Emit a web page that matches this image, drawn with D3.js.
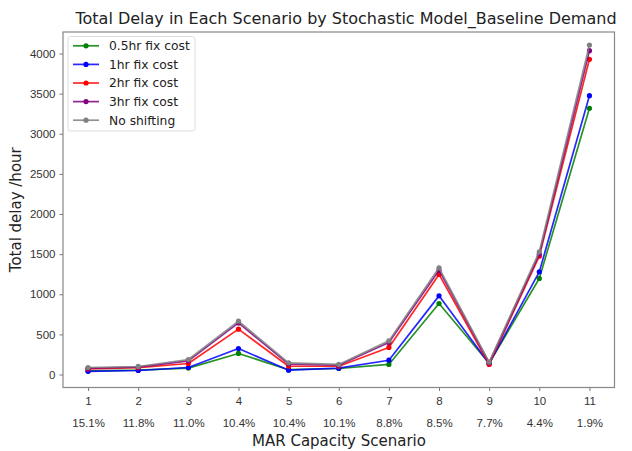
<!DOCTYPE html>
<html>
<head>
<meta charset="utf-8">
<script src="https://cdn.jsdelivr.net/npm/d3@7"></script>
<style>
  html, body { margin: 0; padding: 0; background: #fff; }
  svg { display: block; font-family: "DejaVu Sans", sans-serif; }
</style>
</head>
<body>
<svg id="chart" width="632" height="451"></svg>
<script>
// MAR capacity scenarios and their share labels
const scenarios = [1, 2, 3, 4, 5, 6, 7, 8, 9, 10, 11];
const shares = ["15.1%", "11.8%", "11.0%", "10.4%", "10.4%", "10.1%", "8.8%", "8.5%", "7.7%", "4.4%", "1.9%"];

// Total delay (hours) per scenario for each fixed-cost setting
const fix05hr = [45, 55, 80, 262, 60, 75, 125, 885, 140, 1197, 3317];
const fix1hr = [40, 50, 87, 324, 54, 79, 178, 980, 135, 1279, 3474];
const fix2hr = [70, 85, 137, 565, 103, 103, 337, 1247, 125, 1475, 3928];
const fix3hr = [78, 92, 170, 643, 130, 115, 400, 1300, 145, 1500, 4035];
const noShift = [87, 100, 187, 665, 145, 125, 419, 1329, 155, 1529, 4106];

const yTicks = [0, 500, 1000, 1500, 2000, 2500, 3000, 3500, 4000];

const series = [
  { name: "0.5hr fix cost", color: "green", values: fix05hr },
  { name: "1hr fix cost", color: "blue", values: fix1hr },
  { name: "2hr fix cost", color: "red", values: fix2hr },
  { name: "3hr fix cost", color: "purple", values: fix3hr },
  { name: "No shifting", color: "gray", values: noShift }
];

const svg = d3.select("#chart");
const plot = { left: 63, right: 614.5, top: 32, bottom: 387.5 };

const x = d3.scaleLinear().domain([0.5, 11.5]).range([plot.left, plot.right]);
const y = d3.scaleLinear().domain([-162, 4268]).range([plot.bottom, plot.top]);

// Y axis
const yAxis = svg.append("g")
  .attr("transform", `translate(${plot.left},0)`)
  .call(d3.axisLeft(y).tickValues(yTicks).tickSize(3.5).tickPadding(4).tickFormat(d3.format("d")));
yAxis.select(".domain").remove();
yAxis.selectAll(".tick line").attr("stroke", "#777");
yAxis.selectAll(".tick text").attr("fill", "#333").style("font-size", "11.5px");

// X axis with scenario number and share on two lines
const xAxis = svg.append("g")
  .attr("transform", `translate(0,${plot.bottom})`)
  .call(d3.axisBottom(x).tickValues(scenarios).tickSize(3.5).tickPadding(4).tickFormat(""));
xAxis.select(".domain").remove();
xAxis.selectAll(".tick line").attr("stroke", "#777");
xAxis.selectAll(".tick").each(function (d, i) {
  const t = d3.select(this);
  t.append("text").attr("y", 17).attr("fill", "#333").attr("text-anchor", "middle")
    .style("font-size", "11.5px").text(d);
  t.append("text").attr("y", 39).attr("fill", "#333").attr("text-anchor", "middle")
    .style("font-size", "11.5px").text(shares[i]);
});

// Plot frame
svg.append("rect")
  .attr("x", plot.left).attr("y", plot.top)
  .attr("width", plot.right - plot.left).attr("height", plot.bottom - plot.top)
  .attr("fill", "none").attr("stroke", "#888").attr("stroke-width", 1.2);

// Lines and markers
const line = d3.line().x((d, i) => x(scenarios[i])).y(d => y(d));
series.forEach(s => {
  const g = svg.append("g");
  g.append("path").datum(s.values)
    .attr("d", line).attr("fill", "none")
    .attr("stroke", s.color).attr("stroke-width", 1.7).attr("stroke-opacity", 0.85)
    .attr("stroke-linejoin", "round");
  g.selectAll("circle").data(s.values).join("circle")
    .attr("cx", (d, i) => x(scenarios[i])).attr("cy", d => y(d))
    .attr("r", 2.6).attr("fill", s.color);
});

// Title and axis labels
svg.append("text").attr("x", 346).attr("y", 24)
  .attr("text-anchor", "middle").attr("fill", "#222").style("font-size", "16px")
  .text("Total Delay in Each Scenario by Stochastic Model_Baseline Demand");
svg.append("text").attr("x", 339).attr("y", 446)
  .attr("text-anchor", "middle").attr("fill", "#222").style("font-size", "15px")
  .text("MAR Capacity Scenario");
svg.append("text")
  .attr("transform", `translate(21,${(plot.top + plot.bottom) / 2}) rotate(-90)`)
  .attr("text-anchor", "middle").attr("fill", "#222").style("font-size", "15px")
  .text("Total delay /hour");

// Legend
const legend = svg.append("g");
legend.append("rect").attr("x", 68).attr("y", 36.5).attr("width", 127).attr("height", 94.5)
  .attr("rx", 2.5).attr("fill", "#fff").attr("fill-opacity", 0.8)
  .attr("stroke", "#ddd").attr("stroke-width", 1);
series.forEach((s, i) => {
  const cy = 45.8 + i * 18.6;
  legend.append("line").attr("x1", 73).attr("x2", 99).attr("y1", cy).attr("y2", cy)
    .attr("stroke", s.color).attr("stroke-width", 1.7).attr("stroke-opacity", 0.85);
  legend.append("circle").attr("cx", 86).attr("cy", cy).attr("r", 2.6).attr("fill", s.color);
  legend.append("text").attr("x", 109).attr("y", cy + 4.3).attr("fill", "#222")
    .style("font-size", "12.3px").text(s.name);
});
</script>
</body>
</html>
